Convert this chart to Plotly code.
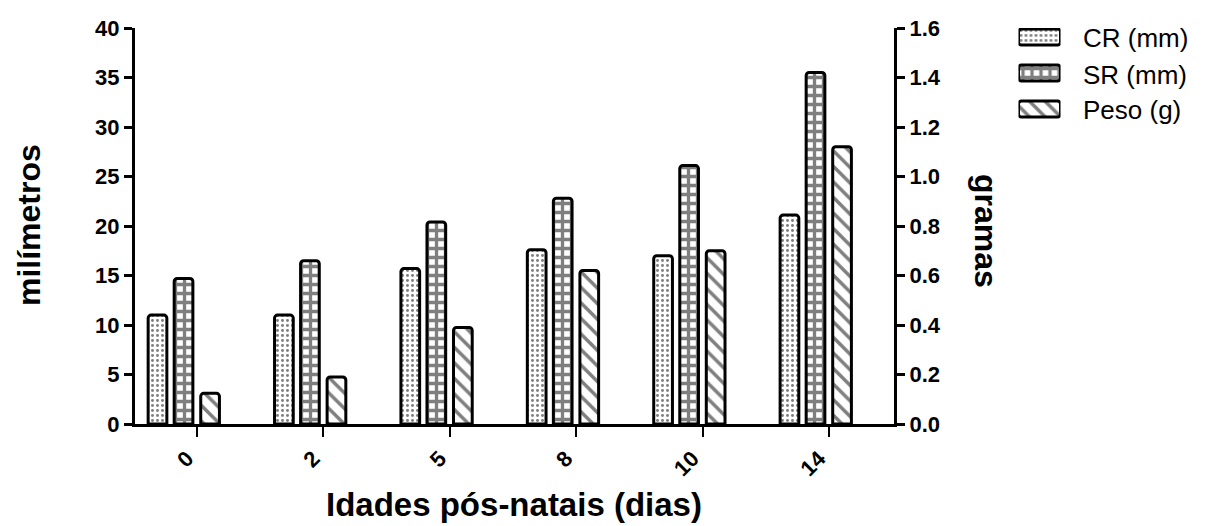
import plotly.graph_objects as go

# Data
idades = ["0", "2", "5", "8", "10", "14"]
cr_mm = [11.0, 11.0, 15.7, 17.6, 17.0, 21.1]
sr_mm = [14.7, 16.5, 20.4, 22.8, 26.1, 35.5]
peso_g = [0.124, 0.19, 0.39, 0.62, 0.70, 1.12]

series_names = ["CR (mm)", "SR (mm)", "Peso (g)"]
left_ticks = [0, 5, 10, 15, 20, 25, 30, 35, 40]
right_ticks = [0.0, 0.2, 0.4, 0.6, 0.8, 1.0, 1.2, 1.4, 1.6]

FONT = "Liberation Sans, Arial, sans-serif"
FIG_W, FIG_H = 1199, 518   # page adds an 8px body margin
OFF = 8

# page-pixel geometry of the plot area in the reference
PL, PR, PT, PB = 135, 894, 28, 424
ML, MT = PL - OFF, PT - OFF
MB = FIG_H - (PB - OFF)
MR = 10
PW = FIG_W - ML - MR          # paper width in px
PH = FIG_H - MT - MB          # paper height in px


def xp(px):
    return (px - PL) / PW


def yp(py):
    return (PB - py) / PH


xpos = list(range(len(idades)))
W = 0.148
LINE = dict(color="black", width=3)

patterns = [
    dict(shape=".", size=5, solidity=0.28, fgcolor="black", bgcolor="white", fillmode="overlay"),
    dict(shape="+", size=9, solidity=0.6, fgcolor="black", bgcolor="white", fillmode="overlay"),
    dict(shape="\\", size=11, solidity=0.32, fgcolor="black", bgcolor="white", fillmode="overlay"),
]

fig = go.Figure()
fig.add_trace(go.Bar(x=xpos, y=cr_mm, name=series_names[0], width=W, offset=-0.387,
                     marker=dict(color="white", line=LINE, cornerradius=3, pattern=patterns[0])))
fig.add_trace(go.Bar(x=xpos, y=sr_mm, name=series_names[1], width=W, offset=-0.181,
                     marker=dict(color="white", line=LINE, cornerradius=3, pattern=patterns[1])))
fig.add_trace(go.Bar(x=xpos, y=peso_g, name=series_names[2], width=W, offset=0.029, yaxis="y2",
                     marker=dict(color="white", line=LINE, cornerradius=3, pattern=patterns[2])))

# Legend swatches (large boxes as in the reference)
for i, name in enumerate(series_names):
    fig.add_trace(go.Bar(x=[1], y=[i], orientation="h", width=0.45, base=0,
                         xaxis="x3", yaxis="y3", name=name, hoverinfo="skip",
                         marker=dict(color="white", line=LINE, cornerradius=3, pattern=patterns[i])))

tickfont = dict(family=FONT, size=22, color="black", weight="bold")
axis_common = dict(showgrid=False, zeroline=False, showline=True, linecolor="black",
                   linewidth=3, ticks="outside", tickcolor="black", tickfont=tickfont,
                   automargin=False)

legend_ann = [
    dict(text=name, xref="paper", yref="paper", x=xp(1081), y=yp(cy), xanchor="left",
         yanchor="middle", showarrow=False, font=dict(family=FONT, size=26, color="black"))
    for name, cy in zip(series_names, [38, 75, 110])
]

fig.update_layout(
    width=FIG_W, height=FIG_H,
    margin=dict(l=ML, r=MR, t=MT, b=MB, autoexpand=False),
    paper_bgcolor="white", plot_bgcolor="white",
    barmode="overlay",
    showlegend=False,
    xaxis=dict(domain=[0, xp(PR)], anchor="y",
               range=[-0.491, 5.514], tickmode="array", tickvals=xpos, ticktext=idades,
               tickangle=-45, ticklen=10, tickwidth=2, ticklabelshift=-10,
               ticklabelstandoff=0, **axis_common),
    yaxis=dict(domain=[0, 1], anchor="x",
               range=[0, 40], tickmode="array", tickvals=left_ticks,
               ticklen=8, tickwidth=3, **axis_common),
    yaxis2=dict(range=[0, 1.6], overlaying="y", side="right", anchor="x", tickmode="array",
                tickvals=right_ticks, tickformat=".1f", ticklen=8, tickwidth=3, **axis_common),
    xaxis3=dict(domain=[xp(1018.5), xp(1060.5)], anchor="y3", range=[0, 1], visible=False,
                fixedrange=True),
    yaxis3=dict(domain=[yp(127), yp(28)], anchor="x3", range=[2.5, -0.25], visible=False,
                fixedrange=True),
    annotations=[
        dict(text="milímetros", xref="paper", yref="paper", x=xp(29), y=yp(225),
             xanchor="center", yanchor="middle", textangle=-90, showarrow=False,
             font=dict(family=FONT, size=32, color="black", weight="bold")),
        dict(text="gramas", xref="paper", yref="paper", x=xp(986), y=yp(231),
             xanchor="center", yanchor="middle", textangle=90, showarrow=False,
             font=dict(family=FONT, size=32, color="black", weight="bold")),
        dict(text="Idades pós-natais (dias)", xref="paper", yref="paper", x=xp(514), y=yp(504),
             xanchor="center", yanchor="middle", showarrow=False,
             font=dict(family=FONT, size=33, color="black", weight="bold")),
    ] + legend_ann,
)

fig.write_html("out.html")
